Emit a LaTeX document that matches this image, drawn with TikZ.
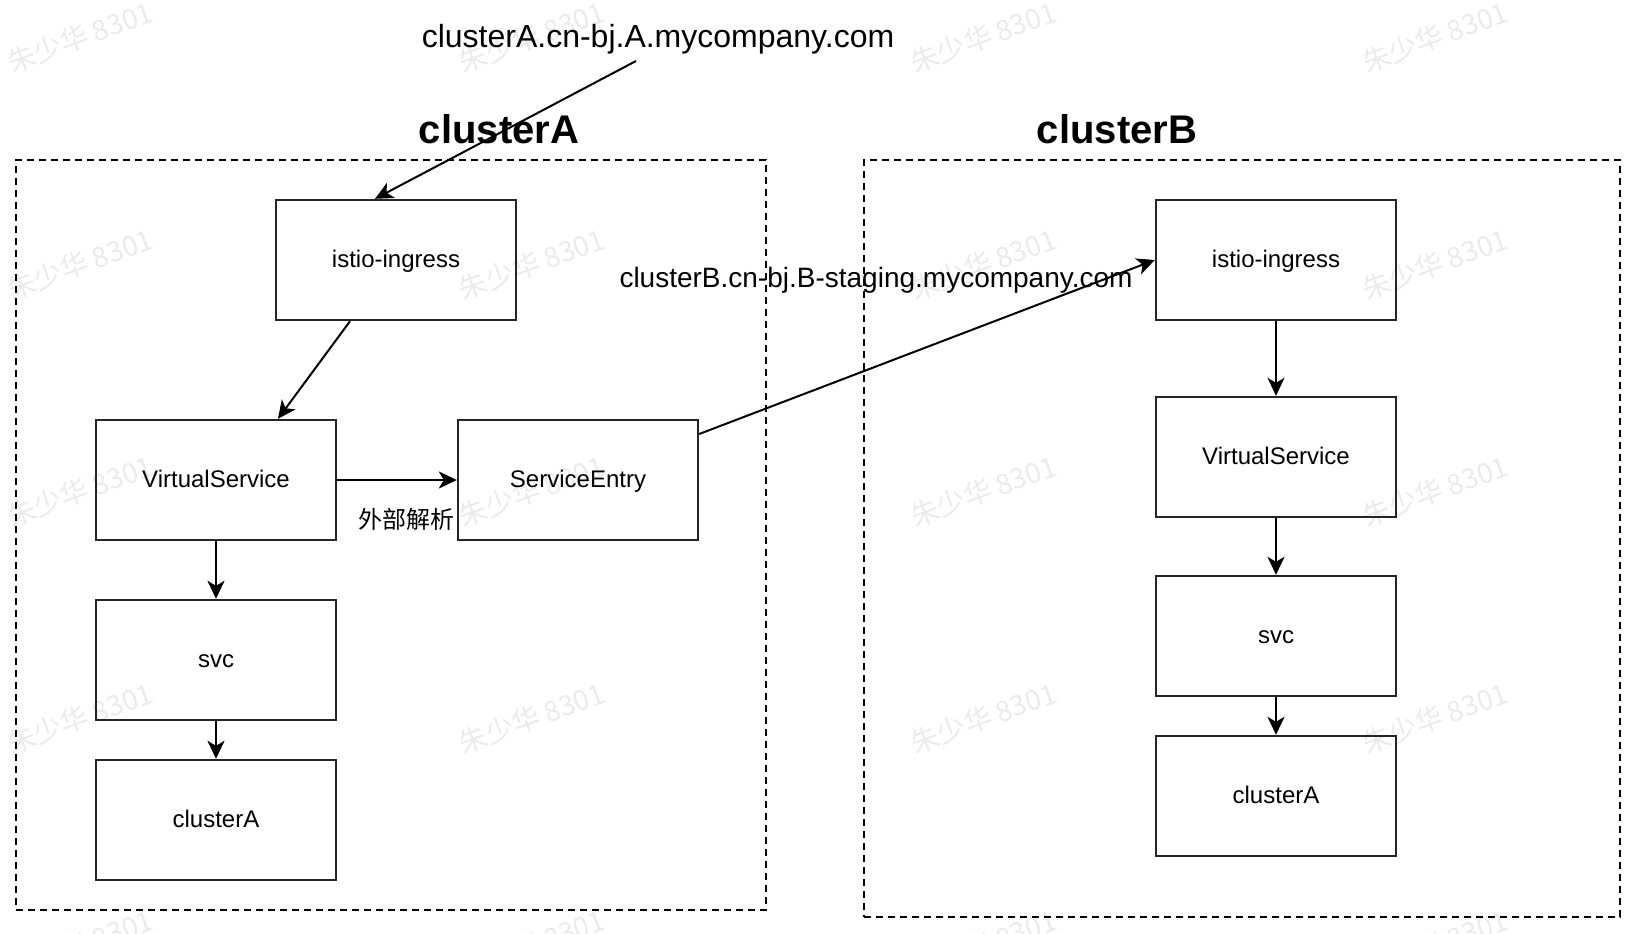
\documentclass[tikz,border=0pt]{standalone}
\usepackage{fontspec}
\setmainfont{Liberation Sans}
\newfontfamily\cjk{Noto Sans CJK SC}
\usetikzlibrary{arrows.meta}
\begin{document}
\begin{tikzpicture}[x=1pt,y=-1pt,
  box/.style={draw=black!85, line width=2.4pt, minimum width=240pt, minimum height=120pt,
    inner sep=0pt, font=\fontsize{24}{28}\selectfont, text height=18pt, text depth=4pt},
  arr/.style={-{Stealth[length=18pt,width=17pt,inset=5pt]}, line width=2pt},
  grp/.style={draw=black, line width=2pt, dash pattern=on 7pt off 5pt, inner sep=0pt},
  urltext/.style={anchor=base, inner sep=0pt},
  wm/.style={font=\cjk\fontsize{28}{30}\selectfont, text=black, text opacity=0.08, rotate=20}]
\useasboundingbox (0,0) rectangle (1638,934);
\fill[white] (0,0) rectangle (1638,934);

% cluster groups
\node[grp, minimum width=750pt, minimum height=750pt] (grpA) at (391,535) {};
\node[grp, minimum width=756pt, minimum height=757pt] (grpB) at (1242,538.5) {};

% titles and labels
\node[urltext, font=\bfseries\fontsize{40}{48}\selectfont] (titleA) at (499,143) {clusterA};
\node[urltext, font=\bfseries\fontsize{40}{48}\selectfont] (titleB) at (1117,143) {clusterB};
\node[urltext, font=\fontsize{32}{38}\selectfont] (urlA) at (658,48) {clusterA.cn-bj.A.mycompany.com};
\node[urltext, font=\fontsize{28}{34}\selectfont] (urlB) at (876,287) {clusterB.cn-bj.B-staging.mycompany.com};
\node[urltext, font=\cjk\fontsize{24}{28}\selectfont] (ext) at (406,528) {外部解析};
\coordinate (srcA) at (636,61);

% cluster A boxes
\node[box] (istioA) at (396,260) {istio-ingress};
\node[box] (vsA) at (216,480) {VirtualService};
\node[box] (seA) at (578,480) {ServiceEntry};
\node[box] (svcA) at (216,660) {svc};
\node[box] (clA) at (216,820) {clusterA};

% cluster B boxes
\node[box] (istioB) at (1276,260) {istio-ingress};
\node[box] (vsB) at (1276,457) {VirtualService};
\node[box] (svcB) at (1276,636) {svc};
\node[box] (clB) at (1276,796) {clusterA};

% connectors
\draw[arr] (srcA) -- ([xshift=-21pt]istioA.north);
\draw[arr] ([xshift=-46pt]istioA.south) -- ([xshift=62pt]vsA.north);
\draw[arr] (vsA.east) -- (seA.west);
\draw[arr] (vsA.south) -- (svcA.north);
\draw[arr] (svcA.south) -- (clA.north);
\draw[arr] ([yshift=46pt]seA.east) -- (istioB.west);
\draw[arr] (istioB.south) -- (vsB.north);
\draw[arr] (vsB.south) -- (svcB.north);
\draw[arr] (svcB.south) -- (clB.north);

% watermarks
\foreach \i in {0,...,3}{
  \foreach \j in {0,...,4}{
    \node[wm] (wm-\i-\j) at ({80+451.7*\i},{37+227*\j}) {朱少华 8301};
  }
}
\end{tikzpicture}
\end{document}
